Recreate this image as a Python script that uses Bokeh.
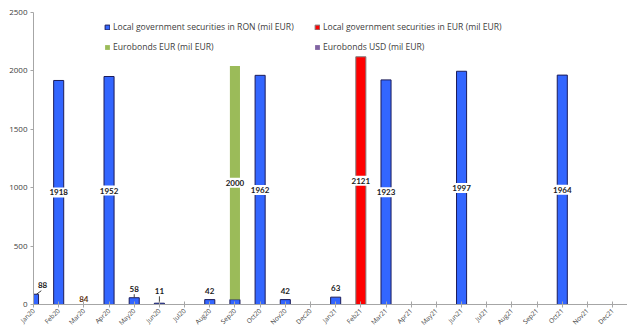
import math
from bokeh.plotting import figure
from bokeh.models import Range1d, FixedTicker, Legend, LegendItem, ColumnDataSource
from bokeh.core.properties import value
from bokeh.embed import file_html
from bokeh.resources import INLINE

months = ["Jan20", "Feb20", "Mar20", "Apr20", "May20", "Jun20", "Jul20", "Aug20",
          "Sep20", "Oct20", "Nov20", "Dec20", "Jan21", "Feb21", "Mar21", "Apr21",
          "May21", "Jun21", "Jul21", "Aug21", "Sep21", "Oct21", "Nov21", "Dec21"]

ron_local = [88, 1918, 0, 1952, 58, 11, 0, 42, 42, 1962, 42, 0,
             63, 0, 1923, 0, 0, 1997, 0, 0, 0, 1964, 0, 0]
eur_local = [0, 0, 0, 0, 0, 0, 0, 0, 0, 0, 0, 0,
             0, 2121, 0, 0, 0, 0, 0, 0, 0, 0, 0, 0]
eurobonds_eur = [0, 0, 0, 0, 0, 0, 0, 0, 2000, 0, 0, 0,
                 0, 0, 0, 0, 0, 0, 0, 0, 0, 0, 0, 0]
eurobonds_usd = [0] * 24

series_names = ["Local government securities in RON (mil EUR)",
                "Local government securities in EUR (mil EUR)",
                "Eurobonds EUR (mil EUR)",
                "Eurobonds USD (mil EUR)"]
series_values = [ron_local, eur_local, eurobonds_eur, eurobonds_usd]

# labels not shown in the chart: (series index, month)
hidden_labels = [(0, "Sep20")]
# label shown without a visible bar
extra_label_months = ["Mar20"]
extra_label_values = [84]
# small labels that have a leader line to their bar
leader_months = ["Jan20", "May20", "Jun20"]

y_ticks = [0, 500, 1000, 1500, 2000, 2500]

fills = ["#3366FF", "#FF0000", "#9BBB59", "#8064A2"]
lines = ["#1c1c5a", "#7f7f7f", None, None]

W, H = 627, 333
p = figure(width=W, height=H, output_backend="svg", toolbar_location=None,
           x_range=Range1d(0, 23.59), y_range=Range1d(0, 2500),
           min_border_left=33, min_border_right=0, min_border_top=12,
           min_border_bottom=29)
p.outline_line_color = None
p.xgrid.visible = False
p.ygrid.visible = False
p.background_fill_color = "white"
p.border_fill_color = "white"

bottoms = [0] * len(months)
renderers = []
big_lx, big_ly, big_lt = [], [], []
small_lx, small_ly, small_lt = [], [], []
lead_x0, lead_y0, lead_x1, lead_y1 = [], [], [], []
for si, vals in enumerate(series_values):
    xs, tops, bots = [], [], []
    for i, v in enumerate(vals):
        if v or lines[si] is None:
            xs.append(i)
            bots.append(bottoms[i])
            tops.append(bottoms[i] + v)
        if v and (si, months[i]) not in hidden_labels:
            if v >= 500:
                big_lx.append(i)
                big_ly.append(bottoms[i] + v / 2)
                big_lt.append(str(v))
            else:
                lx = max(i, 0.36)
                ly = max(bottoms[i] + v + 75, 115)
                small_lx.append(lx)
                small_ly.append(ly)
                small_lt.append(str(v))
                if months[i] in leader_months:
                    lead_x0.append(i + (0.12 if lx != i else 0))
                    lead_y0.append(bottoms[i] + v)
                    lead_x1.append(lx - (0.05 if lx != i else 0))
                    lead_y1.append(ly - 45)
        bottoms[i] += v
    src = ColumnDataSource(dict(x=xs, top=tops, bottom=bots))
    r = p.vbar(x="x", top="top", bottom="bottom", width=0.4, source=src,
               fill_color=fills[si], line_color=lines[si], line_width=1)
    renderers.append(r)

for m, v in zip(extra_label_months, extra_label_values):
    i = months.index(m)
    small_lx.append(i)
    small_ly.append(43)
    small_lt.append(str(v))

p.segment(x0=lead_x0, y0=lead_y0, x1=lead_x1, y1=lead_y1,
          line_color="#404040", line_width=1)

p.text(x=big_lx, y=big_ly, text=big_lt, text_font=value("Lato"),
       text_font_size="8px", text_font_style="bold", text_color="#1a1a1a",
       text_align="center", text_baseline="middle",
       background_fill_color="white", padding=2)

small_colors = ["#1a1a1a"] * (len(small_lt) - len(extra_label_values)) + \
               ["#5e3410"] * len(extra_label_values)
p.text(x=small_lx, y=small_ly, text=small_lt, text_font=value("Lato"),
       text_font_size="8px", text_font_style="bold", text_color=small_colors,
       text_align="center", text_baseline="middle",
       background_fill_color="white", padding=1)

# axes
p.xaxis.ticker = FixedTicker(ticks=list(range(len(months))))
p.xaxis.major_label_overrides = {i: m for i, m in enumerate(months)}
p.xaxis.major_label_orientation = math.pi / 4
p.xaxis.axis_line_color = "#a6a6a6"
p.xaxis.major_tick_line_color = "#a6a6a6"
p.xaxis.major_tick_in = 3
p.xaxis.major_tick_out = 3
p.xaxis.minor_tick_line_color = None
p.xaxis.major_label_text_font = "Open Sans"
p.xaxis.major_label_text_font_size = "6.5px"
p.xaxis.major_label_text_color = "#404040"
p.xaxis.major_label_standoff = 2

p.yaxis.ticker = FixedTicker(ticks=y_ticks)
p.yaxis.axis_line_color = "#a6a6a6"
p.yaxis.major_tick_line_color = "#a6a6a6"
p.yaxis.major_tick_in = 0
p.yaxis.major_tick_out = 3
p.yaxis.minor_tick_line_color = None
p.yaxis.major_label_text_font = "Open Sans"
p.yaxis.major_label_text_font_size = "8px"
p.yaxis.major_label_text_color = "#404040"
p.yaxis.major_label_standoff = 3

def make_legend(idx, loc):
    lg = Legend(items=[LegendItem(label=series_names[k], renderers=[renderers[k]]) for k in idx],
                location=loc, padding=0, margin=0, spacing=8,
                glyph_width=6, glyph_height=6, label_height=11, label_standoff=3,
                label_text_font="Open Sans", label_text_font_size="8.6px",
                label_text_color="#404040", background_fill_alpha=0,
                border_line_color=None)
    return lg

p.add_layout(make_legend([0, 2], (71, 251)))
p.add_layout(make_legend([1, 3], (281, 251)))

open("out.html", "w").write(file_html(p, INLINE))
